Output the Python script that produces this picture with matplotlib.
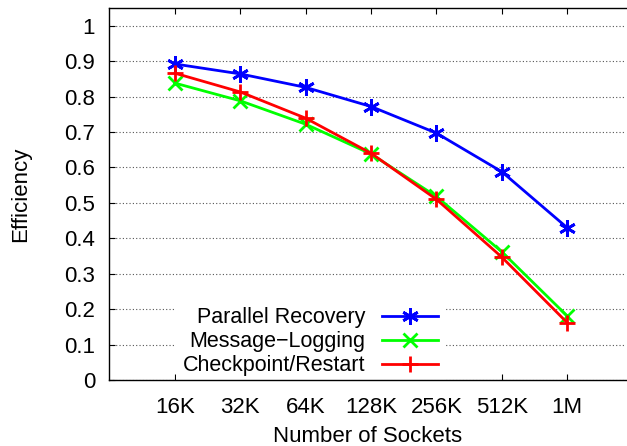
import matplotlib.pyplot as plt

plt.rcParams['font.family'] = ['Liberation Sans', 'DejaVu Sans']

sockets = ['16K', '32K', '64K', '128K', '256K', '512K', '1M']
parallel = [0.892, 0.864, 0.826, 0.772, 0.697, 0.588, 0.430]
msglog = [0.838, 0.788, 0.722, 0.638, 0.518, 0.362, 0.181]
ckpt = [0.866, 0.813, 0.739, 0.640, 0.510, 0.347, 0.162]
yticks = [0, 0.1, 0.2, 0.3, 0.4, 0.5, 0.6, 0.7, 0.8, 0.9, 1]

fig = plt.figure(figsize=(6.27, 4.46), dpi=100)
ax = fig.add_axes([0.1738, 0.148, 0.8245, 0.834])

x = range(len(sockets))
ax.plot(x, parallel, color='#0000ff', lw=2.0, marker=(6, 2, 0), ms=12, mew=2.0,
        label='Parallel Recovery', zorder=3)
ax.plot(x, msglog, color='#00ff00', lw=2.0, marker='x', ms=10, mew=2.0,
        label='Message\u2212Logging', zorder=3)
ax.plot(x, ckpt, color='#ff0000', lw=2.0, marker='+', ms=12, mew=2.0,
        label='Checkpoint/Restart', zorder=3)

ax.set_xlim(-1.01, 6.9)
ax.set_ylim(0, 1.05)
ax.set_xticks(list(x))
ax.set_xticklabels(sockets)
ax.set_yticks(yticks)
ax.set_yticklabels(['0', '0.1', '0.2', '0.3', '0.4', '0.5', '0.6', '0.7', '0.8', '0.9', '1'])
ax.tick_params(axis='both', direction='in', length=4, width=0.8, labelsize=16, pad=10)
ax.tick_params(axis='x', top=True, pad=12)
ax.yaxis.grid(True, linestyle=(0, (1, 2)), color='#555555', lw=0.8)
ax.spines['right'].set_visible(False)
for s in ['left', 'top', 'bottom']:
    ax.spines[s].set_linewidth(1.0)

ax.set_xlabel('Number of Sockets', fontsize=16, labelpad=6)
ax.set_ylabel('Efficiency', fontsize=16, labelpad=24)

leg = ax.legend(loc='lower right', bbox_to_anchor=(0.67, -0.036), markerfirst=False,
                fontsize=15.5, frameon=True, fancybox=False, edgecolor='none',
                facecolor='white', framealpha=1, handlelength=2.6,
                labelspacing=0.14, borderpad=0.3, handletextpad=0.8)
leg.set_zorder(2)

fig.savefig('out.png', dpi=100)
